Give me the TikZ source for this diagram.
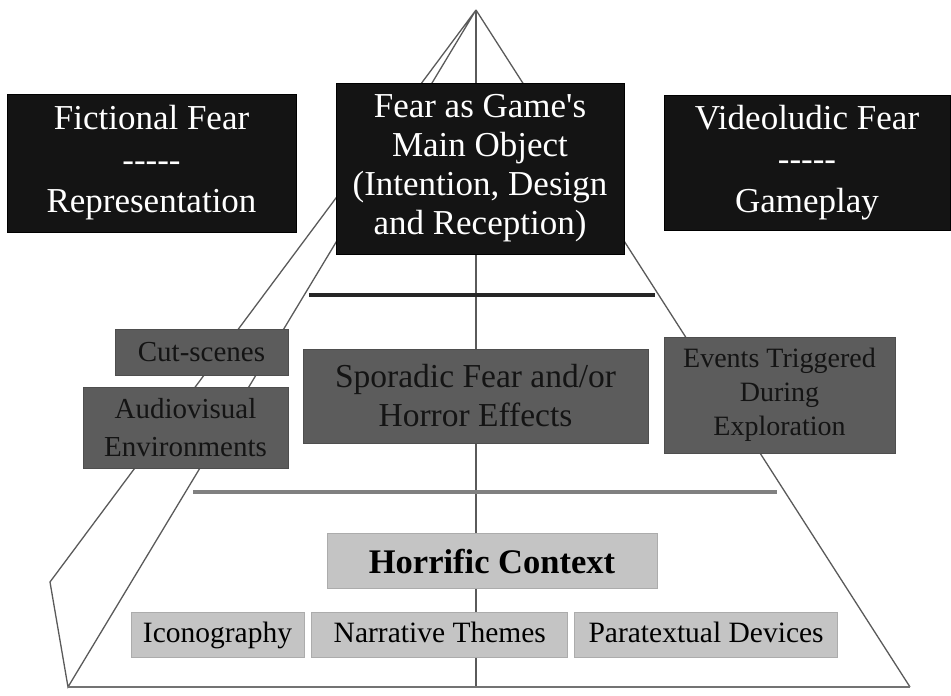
\documentclass[tikz,border=0pt]{standalone}
\usepackage{fontspec}
\setmainfont{Liberation Serif}[Ligatures=TeXOff]
\usepackage{tikz}
\usetikzlibrary{positioning}
\definecolor{topfill}{HTML}{141414}
\definecolor{midfill}{HTML}{5C5C5C}
\definecolor{basefill}{HTML}{C4C4C4}
\definecolor{rimc}{HTML}{5A5A5A}

\begin{document}
\begin{tikzpicture}[
  x=1pt, y=1pt,
  box/.style={rectangle, align=center, inner sep=0pt, line width=0.8pt},
  top/.style={box, fill=topfill, draw=black, text=white, font=\fontsize{35}{41.5}\selectfont},
  mid/.style={box, fill=midfill, draw=midfill!85!black, text=black!92, font=\fontsize{29}{38}\selectfont},
  base/.style={box, fill=basefill, draw=basefill!88!black, text=black, font=\fontsize{29.5}{35}\selectfont,
    text height=22pt, text depth=5pt},
  rim/.style={draw=rimc, line width=1.3pt},
  level/.style={line width=3.2pt}
]
\useasboundingbox (0,0) rectangle (951,696);

% pyramid seen from the front-left
\coordinate (apex) at (476,686);
\coordinate (bl) at (50,114);
\coordinate (fl) at (68,9);
\coordinate (fr) at (910,9);
\coordinate (fm) at (476,9);
\draw[rim] (apex) -- (bl) -- (fl) -- (apex);
\draw[rim] (apex) -- (fm);
\draw[rim] (apex) -- (fr);
\draw[rim, line width=2.5pt, draw=gray!90!black] (fl) -- (fr);

% level separators
\coordinate (l1a) at (309,401);
\coordinate (l1b) at (655,401);
\coordinate (l2a) at (193,204);
\coordinate (l2b) at (777,204);
\draw[level, draw=black!85] (l1a) -- (l1b);
\draw[level, draw=gray] (l2a) -- (l2b);

% top level
\node[top, minimum width=289, minimum height=138] (fict) at (151.5,533)
  {Fictional Fear\\-----\\Representation};
\node[top, minimum width=288, minimum height=171, font=\fontsize{35}{39}\selectfont] (mainobj) at (480,527.5)
  {Fear as Game's\\Main Object\\(Intention, Design\\and Reception)};
\node[top, minimum width=286, minimum height=135] (video) at (807,533.5)
  {Videoludic Fear\\-----\\Gameplay};

% middle level
\node[mid, minimum width=173, minimum height=46] (cuts) at (201.5,344) {Cut-scenes};
\node[mid, minimum width=205, minimum height=81] (avenv) at (185.5,268.5)
  {Audiovisual\\Environments};
\node[mid, minimum width=345, minimum height=94, font=\fontsize{33.5}{39}\selectfont] (sporadic) at (475.5,300)
  {Sporadic Fear and/or\\Horror Effects};
\node[mid, minimum width=231, minimum height=116, font=\fontsize{28}{34}\selectfont] (events) at (779.5,301)
  {Events Triggered\\During\\Exploration};

% base level
\node[base, minimum width=330, minimum height=55, text height=26pt, text depth=0pt,
  font=\fontsize{34.5}{40}\selectfont\bfseries] (context) at (492,135.5) {Horrific Context};
\node[base, minimum width=173, minimum height=45] (icono) at (217.5,61.5) {Iconography};
\node[base, minimum width=256, minimum height=45, right=7 of icono] (themes) {Narrative Themes};
\node[base, minimum width=263, minimum height=45, right=6 of themes] (paratext) {Paratextual Devices};
\end{tikzpicture}
\end{document}
